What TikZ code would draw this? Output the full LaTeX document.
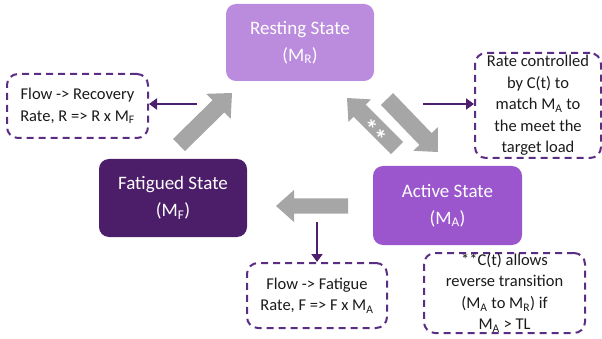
\documentclass[tikz,border=0pt]{standalone}
\usepackage{fontspec}
\setmainfont{Carlito}
\usetikzlibrary{calc,arrows.meta}
\definecolor{restc}{HTML}{BB8CDD}
\definecolor{actc}{HTML}{9B55CD}
\definecolor{fatc}{HTML}{4C1D68}
\definecolor{dashc}{HTML}{5B2C83}
\definecolor{connc}{HTML}{4E1F6E}
\definecolor{agray}{HTML}{A6A6A6}
\definecolor{txtc}{HTML}{1A1A1A}
\newcommand{\blockarr}[6]{% name, A, B, w, h, L
  \coordinate (#1-a) at (#2);
  \coordinate (#1-b) at (#3);
  \coordinate (#1-c) at ($(#1-b)!#6!(#1-a)$);
  \fill[agray] ($(#1-a)!#4!90:(#1-b)$) -- ($(#1-c)!#4!-90:(#1-a)$) -- ($(#1-c)!#5!-90:(#1-a)$)
    -- (#1-b) -- ($(#1-c)!#5!90:(#1-a)$) -- ($(#1-c)!#4!90:(#1-a)$) -- ($(#1-a)!#4!-90:(#1-b)$) -- cycle;
}
\tikzset{
  statebox/.style={rounded corners=10pt, text=white, align=center, inner sep=0pt,
    font=\fontsize{19}{27}\selectfont},
  notebox/.style={draw=dashc, line width=2pt, dash pattern=on 7pt off 5pt, rounded corners=11pt,
    align=center, inner sep=0pt, text=txtc, font=\fontsize{16.5}{21.5}\selectfont},
  conn/.style={draw=connc, line width=2.6pt, -{Triangle[length=8pt,width=11pt]}}
}
\begin{document}
\begin{tikzpicture}[x=1pt,y=-1pt]
\useasboundingbox (0,0) rectangle (602,339);
% state boxes
\node[statebox, fill=restc, minimum width=148pt, minimum height=77pt] (rest) at (300,42.5)
  {Resting State\\(M\textsubscript{R})};
\node[statebox, fill=actc, minimum width=149pt, minimum height=79pt] (act) at (447.5,205.5)
  {Active State\\(M\textsubscript{A})};
\node[statebox, fill=fatc, minimum width=148pt, minimum height=78pt] (fat) at (173,198)
  {Fatigued State\\(M\textsubscript{F})};
% note boxes
\node[notebox, minimum width=141pt, minimum height=64pt] (rec) at (77.5,106)
  {Flow -> Recovery\\Rate, R => R x M\textsubscript{F}};
\node[notebox, minimum width=126pt, minimum height=105pt] (rate) at (538,105.5)
  {Rate controlled\\by C(t) to\\match M\textsubscript{A} to\\the meet the\\target load};
\node[notebox, minimum width=140pt, minimum height=65pt] (fnote) at (317,295.5)
  {Flow -> Fatigue\\Rate, F => F x M\textsubscript{A}};
\node[notebox, minimum width=161pt, minimum height=80pt] (tl) at (504.5,293)
  {**C(t) allows\\reverse transition\\(M\textsubscript{A} to M\textsubscript{R}) if\\M\textsubscript{A} > TL};
% block arrows
\blockarr{fr}{179,145}{232,93}{8.5pt}{17.5pt}{19pt}
\blockarr{ra}{387,99}{438,152}{8.5pt}{17pt}{18pt}
\blockarr{ar}{397,148}{347,98}{8.5pt}{16pt}{18pt}
\blockarr{af}{348,206}{276,206}{7.5pt}{16pt}{18pt}
\node[text=white, rotate=-45, font=\bfseries\fontsize{26}{26}\selectfont, inner sep=0pt, anchor=center] (stars) at (373,132.5) {**};
% connectors
\coordinate (c1) at (197,104);
\coordinate (c2) at (423,104);
\coordinate (c3) at (317,222);
\draw[conn] (c1) -- (c1 -| rec.east);
\draw[conn] (c2) -- (c2 -| rate.west);
\draw[conn] (c3) -- (c3 |- fnote.north);
\end{tikzpicture}
\end{document}
